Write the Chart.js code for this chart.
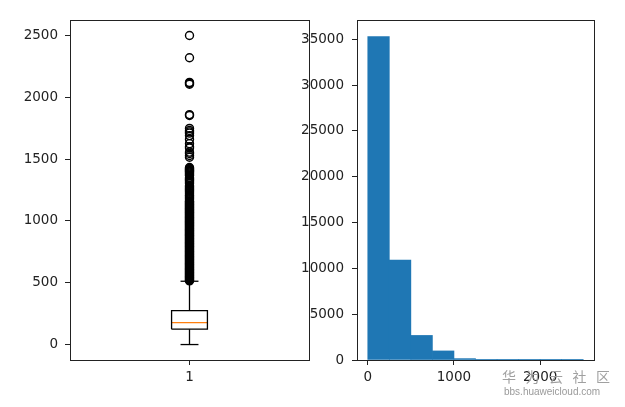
<!DOCTYPE html>
<html>
<head>
<meta charset="utf-8">
<script src="https://cdn.jsdelivr.net/npm/chart.js@4/dist/chart.umd.min.js"></script>
<style>
  body { margin: 0; background: #fff; }
  #wrap { position: relative; width: 625px; height: 407px; overflow: hidden; background: #fff; }
  canvas { position: absolute; top: 0; }
  #boxCanvas { left: 0; }
  #histCanvas { left: 280px; }
  .wm { position: absolute; color: #a0a0a0; white-space: nowrap; }
  #wmCn { left: 502px; top: 366px; font: 14px "Noto Sans CJK SC"; letter-spacing: 9.5px; }
  #wmUrl { left: 504px; top: 386px; font: 10px "Liberation Sans"; color: #9a9a9a; }
</style>
</head>
<body>
<div id="wrap">
  <canvas id="boxCanvas" width="320" height="407"></canvas>
  <canvas id="histCanvas" width="345" height="407"></canvas>
  <div class="wm" id="wmCn">华为云社区</div>
  <div class="wm" id="wmUrl">bbs.huaweicloud.com</div>
</div>
<script>
// box plot stats
const boxLabels = ["1"];
const whiskerLow = [0];
const quartile1 = [124];
const medians = [178];
const quartile3 = [275];
const whiskerHigh = [512];
const outliers = [
  515, 520, 525, 530, 535, 540, 545, 550, 555, 560, 565, 570, 575, 580, 585, 590,
  595, 600, 605, 610, 615, 620, 625, 630, 635, 640, 645, 650, 655, 660, 665, 670,
  675, 680, 685, 690, 695, 700, 705, 710, 715, 720, 725, 730, 735, 740, 745, 750,
  755, 760, 765, 770, 775, 780, 785, 790, 795, 800, 805, 810, 815, 820, 825, 830,
  835, 840, 845, 850, 855, 860, 865, 870, 875, 880, 885, 890, 895, 900, 905, 910,
  915, 920, 925, 930, 935, 940, 945, 950, 955, 960, 965, 970, 975, 980, 985, 990,
  995, 1000, 1005, 1010, 1015, 1020, 1025, 1030, 1035, 1040, 1045, 1050, 1055,
  1060, 1065, 1070, 1075, 1080, 1085, 1090, 1095, 1100, 1105, 1110, 1115, 1120,
  1125, 1130, 1135, 1140, 1145, 1150, 1155, 1160, 1170, 1180, 1188, 1195, 1203,
  1210, 1222, 1232, 1240, 1248, 1255, 1262, 1270, 1278, 1285, 1300, 1310, 1320,
  1328, 1335, 1342, 1350, 1365, 1372, 1380, 1388, 1395, 1400, 1405, 1410, 1415,
  1420, 1425, 1432, 1515, 1529, 1545, 1556, 1590, 1600, 1625, 1660, 1690, 1710,
  1720, 1731, 1748, 1853, 1860, 2105, 2114, 2120, 2320, 2500
];
const boxYTicks = [0, 500, 1000, 1500, 2000, 2500];

// histogram
const binEdges = [0, 250, 500, 750, 1000, 1250, 1500, 1750, 2000, 2250, 2500];
const binCounts = [35300, 10900, 2680, 990, 150, 30, 8, 2, 3, 2];
const histXTicks = [0, 1000, 2000];
const histYTicks = [0, 5000, 10000, 15000, 20000, 25000, 30000, 35000];

const ink = "#222";
const tickFont = { family: "DejaVu Sans", size: 13.5 };

// draws the 4-sided axes frame like matplotlib spines
const framePlugin = {
  id: "frame",
  afterDatasetsDraw(chart) {
    const a = chart.chartArea;
    const ctx = chart.ctx;
    ctx.save();
    ctx.strokeStyle = ink;
    ctx.lineWidth = 1;
    ctx.strokeRect(Math.round(a.left) + 0.5, Math.round(a.top) + 0.5,
      Math.round(a.right - a.left), Math.round(a.bottom - a.top));
    ctx.restore();
  }
};

function axisOpts(min, max, ticks, extra) {
  return Object.assign({
    type: "linear",
    min: min,
    max: max,
    offset: false,
    afterBuildTicks: (s) => { s.ticks = ticks.map((v) => ({ value: v })); },
    grid: { offset: false, drawOnChartArea: false, drawTicks: true, tickLength: 5, color: ink, lineWidth: 1 },
    border: { display: false }
  }, extra);
}

const plainTicks = (pad, cb) => ({
  color: ink, font: tickFont, padding: pad, maxRotation: 0, autoSkip: false,
  callback: cb || ((v) => String(v))
});

// ---- box plot ----
const pos = 1;
const half = 0.075; // half of box width (0.15)
const capHalf = half / 2;
const seg = (x0, y0, x1, y1) => [{ x: x0, y: y0 }, { x: x1, y: y1 }];
const lineDs = (data, color) => ({
  type: "scatter", data: data, showLine: true, borderColor: color, borderWidth: 1.3,
  pointRadius: 0, tension: 0, fill: false
});

new Chart(document.getElementById("boxCanvas"), {
  type: "scatter",
  data: {
    datasets: [
      lineDs([
        { x: pos - half, y: quartile1[0] }, { x: pos + half, y: quartile1[0] },
        { x: pos + half, y: quartile3[0] }, { x: pos - half, y: quartile3[0] },
        { x: pos - half, y: quartile1[0] }
      ], "#000"),
      lineDs(seg(pos, quartile1[0], pos, whiskerLow[0]), "#000"),
      lineDs(seg(pos, quartile3[0], pos, whiskerHigh[0]), "#000"),
      lineDs(seg(pos - capHalf, whiskerLow[0], pos + capHalf, whiskerLow[0]), "#000"),
      lineDs(seg(pos - capHalf, whiskerHigh[0], pos + capHalf, whiskerHigh[0]), "#000"),
      lineDs(seg(pos - half, medians[0], pos + half, medians[0]), "#ff7f0e"),
      {
        type: "scatter",
        data: outliers.map((v) => ({ x: pos, y: v })),
        pointRadius: 4,
        pointBorderWidth: 1.4,
        pointBorderColor: "#000",
        pointBackgroundColor: "rgba(0,0,0,0)"
      }
    ]
  },
  options: {
    responsive: false,
    animation: false,
    devicePixelRatio: 1,
    layout: { padding: { left: 0, top: 20, right: 11, bottom: 0 } },
    plugins: { legend: { display: false }, tooltip: { enabled: false } },
    scales: {
      x: axisOpts(0.5, 1.5, [pos], {
        afterFit: (s) => { s.height = 47; },
        ticks: plainTicks(4, () => boxLabels[0])
      }),
      y: axisOpts(-125, 2625, boxYTicks, {
        afterFit: (s) => { s.width = 70; },
        ticks: plainTicks(7)
      })
    }
  },
  plugins: [framePlugin]
});

// ---- histogram ----
const histData = binCounts.map((c, i) => ({ x: (binEdges[i] + binEdges[i + 1]) / 2, y: c }));

new Chart(document.getElementById("histCanvas"), {
  type: "bar",
  data: {
    datasets: [{
      data: histData,
      backgroundColor: "#1f77b4",
      borderWidth: 0,
      barPercentage: 1,
      categoryPercentage: 1
    }]
  },
  options: {
    responsive: false,
    animation: false,
    devicePixelRatio: 1,
    layout: { padding: { left: 0, top: 20, right: 31, bottom: 0 } },
    plugins: { legend: { display: false }, tooltip: { enabled: false } },
    scales: {
      x: axisOpts(-125, 2625, histXTicks, {
        afterFit: (s) => { s.height = 47; },
        ticks: plainTicks(4)
      }),
      y: axisOpts(0, 37100, histYTicks, {
        afterFit: (s) => { s.width = 77; },
        ticks: plainTicks(8)
      })
    }
  },
  plugins: [framePlugin]
});
</script>
</body>
</html>
